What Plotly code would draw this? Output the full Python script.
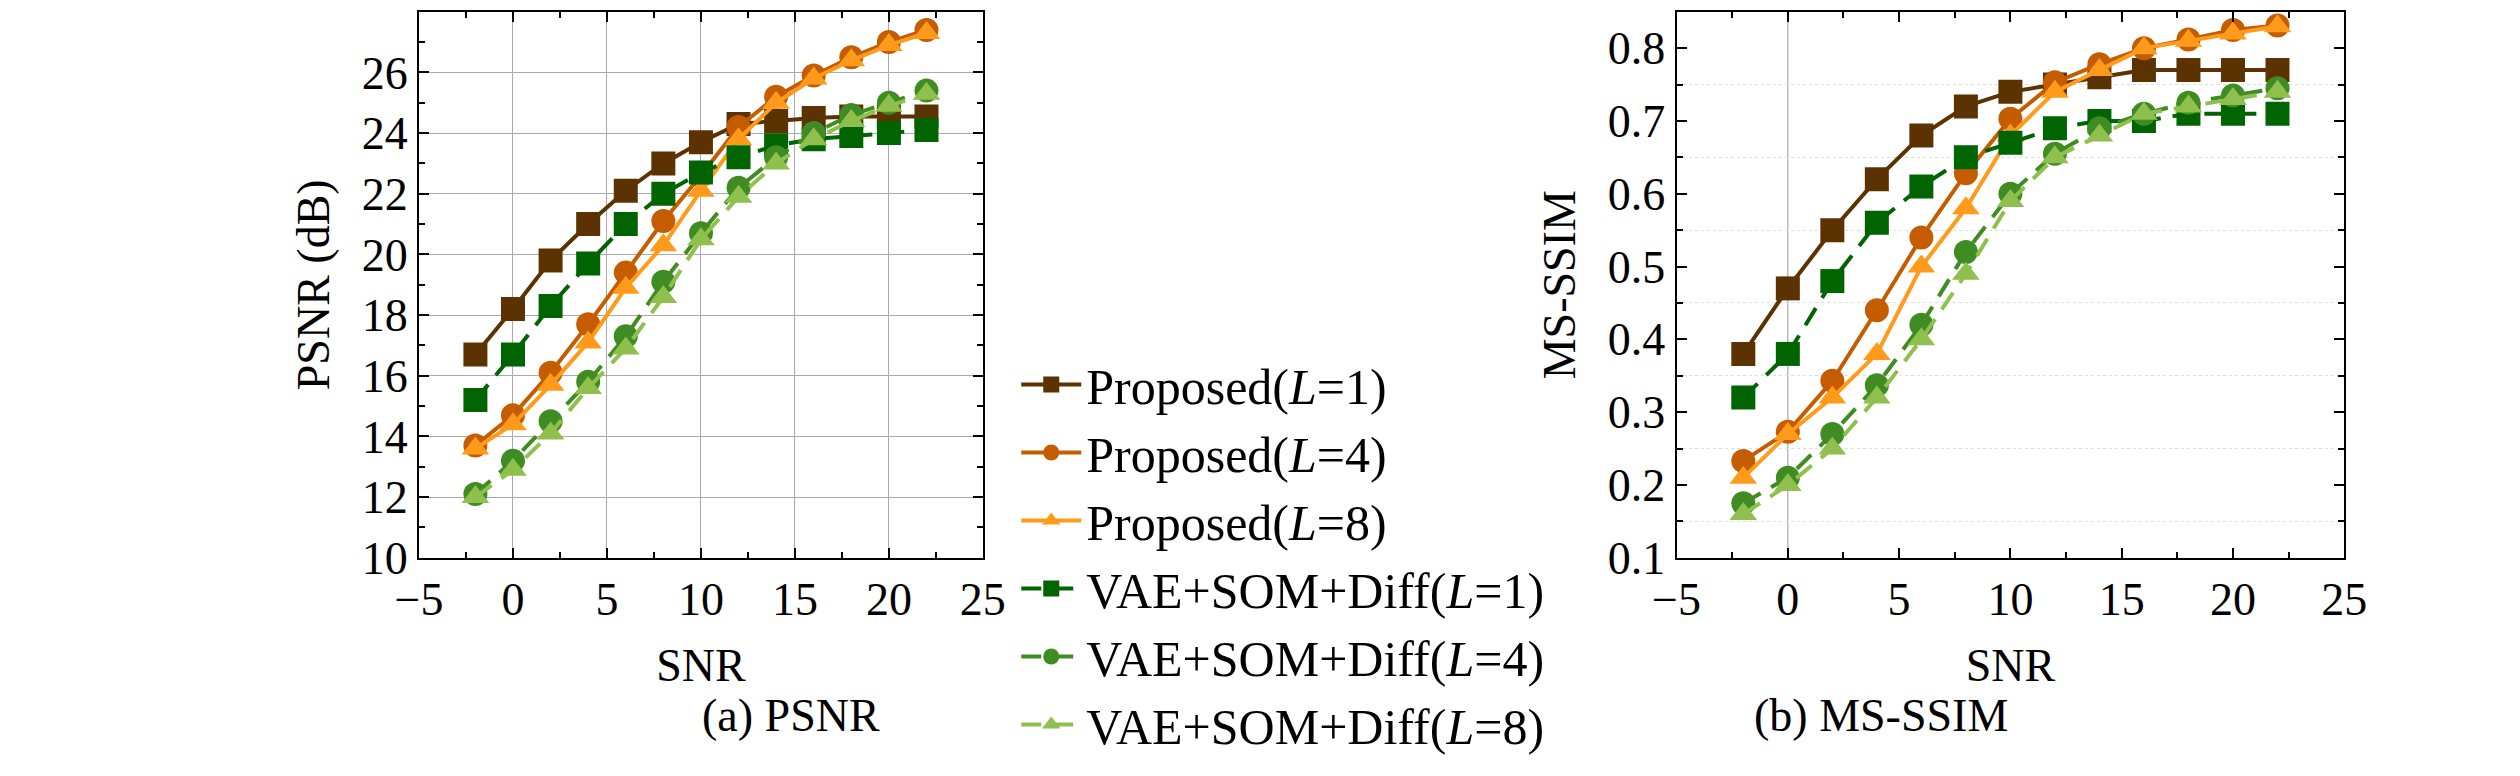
import plotly.graph_objects as go

snr = [-2, 0, 2, 4, 6, 8, 10, 12, 14, 16, 18, 20, 22]
names = ["Proposed(<i>L</i>=1)", "Proposed(<i>L</i>=4)", "Proposed(<i>L</i>=8)",
         "VAE+SOM+Diff(<i>L</i>=1)", "VAE+SOM+Diff(<i>L</i>=4)", "VAE+SOM+Diff(<i>L</i>=8)"]
psnr_p1 = [16.7, 18.2, 19.8, 21.0, 22.1, 23.0, 23.7, 24.3, 24.4, 24.5, 24.55, 24.55, 24.55]
psnr_p4 = [13.7, 14.7, 16.1, 17.7, 19.4, 21.1, 22.6, 24.2, 25.2, 25.9, 26.5, 27.0, 27.4]
psnr_p8 = [13.6, 14.4, 15.7, 17.1, 18.9, 20.3, 22.1, 23.8, 25.0, 25.8, 26.4, 26.9, 27.3]
psnr_v1 = [15.2, 16.7, 18.3, 19.7, 21.0, 22.0, 22.7, 23.2, 23.6, 23.8, 23.9, 24.0, 24.1]
psnr_v4 = [12.1, 13.2, 14.5, 15.8, 17.3, 19.1, 20.7, 22.2, 23.2, 24.0, 24.6, 25.0, 25.4]
psnr_v8 = [12.0, 12.9, 14.1, 15.6, 16.9, 18.6, 20.5, 21.9, 23.0, 23.8, 24.4, 24.9, 25.3]
ssim_p1 = [0.38, 0.47, 0.55, 0.62, 0.68, 0.72, 0.74, 0.75, 0.76, 0.77, 0.77, 0.77, 0.77]
ssim_p4 = [0.233, 0.273, 0.343, 0.44, 0.54, 0.628, 0.703, 0.753, 0.778, 0.80, 0.812, 0.825, 0.831]
ssim_p8 = [0.21, 0.27, 0.32, 0.38, 0.50, 0.58, 0.68, 0.74, 0.77, 0.80, 0.81, 0.82, 0.83]
ssim_v1 = [0.32, 0.38, 0.48, 0.56, 0.61, 0.65, 0.67, 0.69, 0.70, 0.70, 0.71, 0.71, 0.71]
ssim_v4 = [0.175, 0.21, 0.27, 0.337, 0.42, 0.52, 0.60, 0.655, 0.69, 0.71, 0.725, 0.735, 0.745]
ssim_v8 = [0.16, 0.20, 0.25, 0.32, 0.40, 0.49, 0.59, 0.65, 0.68, 0.71, 0.72, 0.73, 0.74]

colors = ["#5c3300", "#c65c00", "#ff9a1a", "#006400", "#3e8c22", "#8fbf4c"]
symbols = ["square", "circle", "triangle-up", "square", "circle", "triangle-up"]
dashes = ["solid", "solid", "solid", "20px,12px", "20px,12px", "20px,12px"]

fig = go.Figure()
for i, ys in enumerate([psnr_p1, psnr_p4, psnr_p8, psnr_v1, psnr_v4, psnr_v8]):
    fig.add_trace(go.Scatter(x=snr, y=ys, name=names[i], mode="lines+markers",
                             line=dict(color=colors[i], width=4, dash=dashes[i]),
                             marker=dict(symbol=symbols[i], size=24, color=colors[i]),
                             xaxis="x", yaxis="y"))
for i, ys in enumerate([ssim_p1, ssim_p4, ssim_p8, ssim_v1, ssim_v4, ssim_v8]):
    fig.add_trace(go.Scatter(x=snr, y=ys, name=names[i], mode="lines+markers", showlegend=False,
                             line=dict(color=colors[i], width=4, dash=dashes[i]),
                             marker=dict(symbol=symbols[i], size=24, color=colors[i]),
                             xaxis="x2", yaxis="y2"))

font = dict(family="Liberation Serif", size=46, color="black")
lfont = dict(family="Liberation Serif", size=50, color="black")
ax = dict(showline=True, linecolor="black", linewidth=2, mirror="ticks", ticks="inside",
          ticklen=10, tickwidth=2, tickcolor="black", zeroline=False, tickfont=font)
fig.update_layout(
    width=2520, height=776, margin=dict(l=0, r=0, t=0, b=0),
    plot_bgcolor="white", paper_bgcolor="white", font=font,
    xaxis=dict(ax, domain=[0.1565, 0.3845], range=[-5, 25], dtick=5, showgrid=True,
               gridcolor="#aaaaaa", gridwidth=1, title=dict(text="SNR", font=font, standoff=25),
               minor=dict(ticks="inside", ticklen=6, dtick=2.5, tickcolor="black")),
    yaxis=dict(ax, domain=[0.267, 0.995], range=[10, 28], dtick=2, showgrid=True,
               gridcolor="#aaaaaa", gridwidth=1, title=dict(text="PSNR (dB)", font=font, standoff=18),
               minor=dict(ticks="inside", ticklen=6, dtick=1, tickcolor="black")),
    xaxis2=dict(ax, domain=[0.665, 0.935], range=[-5, 25], dtick=5, showgrid=False, anchor="y2",
                title=dict(text="SNR", font=font, standoff=25),
                minor=dict(ticks="inside", ticklen=6, dtick=2.5, tickcolor="black")),
    yaxis2=dict(ax, domain=[0.267, 0.995], range=[0.1, 0.85], dtick=0.1, showgrid=False, anchor="x2",
                title=dict(text="MS-SSIM", font=font, standoff=18),
                minor=dict(ticks="inside", ticklen=6, dtick=0.05, tickcolor="black", showgrid=True,
                           gridcolor="#dddddd", griddash="dot")),
    legend=dict(x=0.398, y=0.55, xanchor="left", yanchor="top", font=lfont,
                bgcolor="rgba(0,0,0,0)", tracegroupgap=0, itemwidth=60),
    annotations=[
        dict(text="(a) PSNR", x=0.27, y=0.02, xref="paper", yref="paper", showarrow=False, font=font),
        dict(text="(b) MS-SSIM", x=0.80, y=0.02, xref="paper", yref="paper", showarrow=False, font=font),
    ],
    shapes=[dict(type="line", xref="x2", yref="y2 domain", x0=0, x1=0, y0=0, y1=1,
                 line=dict(color="#999999", width=1), layer="below")],
)
fig.write_html("out.html")
